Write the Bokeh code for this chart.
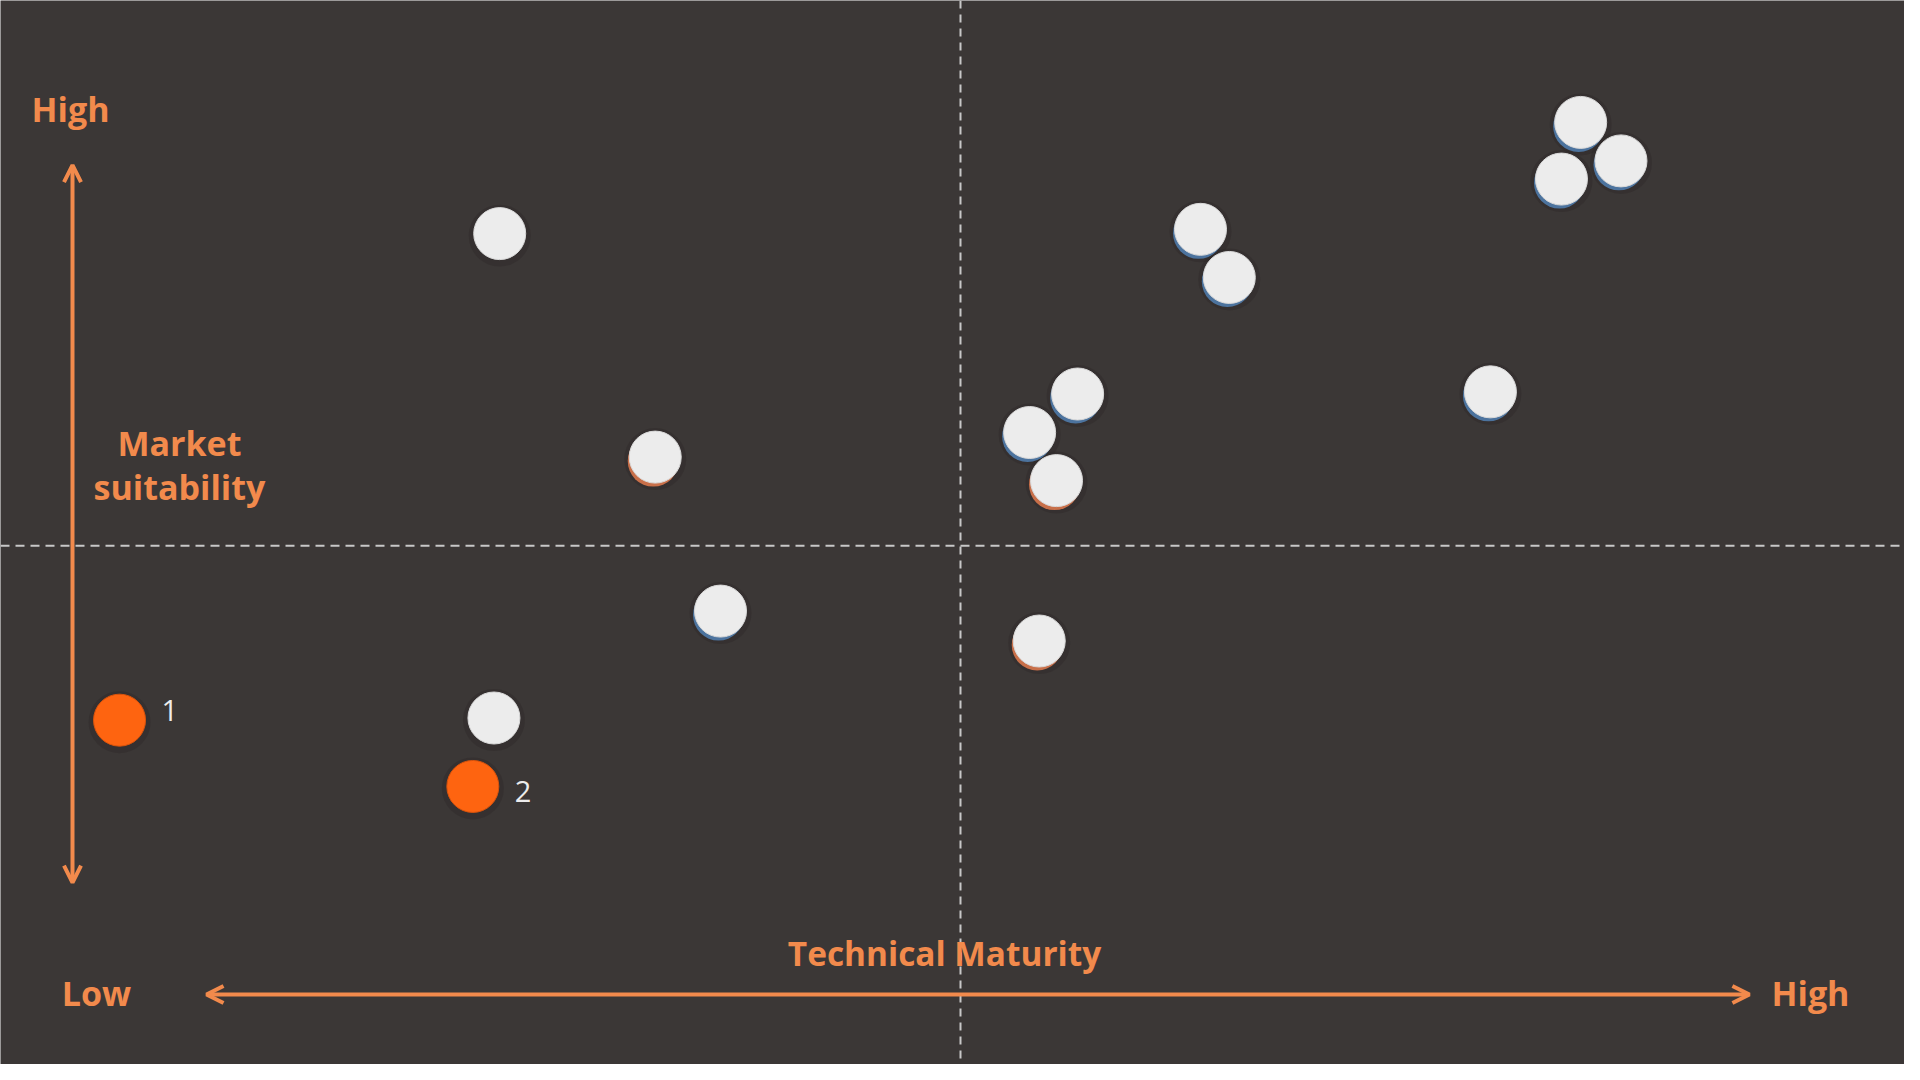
from bokeh.plotting import figure
from bokeh.models import Range1d, Span, Arrow, OpenHead, ColumnDataSource, Label
from bokeh.embed import file_html
from bokeh.resources import INLINE
from bokeh.core.properties import value

# Data: technical maturity (x) vs market suitability (y), 0-10 scale, midpoint 5
maturity    = [2.60, 3.41, 3.75, 5.41, 2.57, 0.62, 2.46, 5.61, 5.36, 5.50, 6.25, 6.40, 7.76, 8.23, 8.44, 8.13]
suitability = [7.92, 5.83, 4.39, 4.11, 3.39, 3.37, 2.75, 6.42, 6.06, 5.61, 7.96, 7.51, 6.44, 8.96, 8.60, 8.43]
kind        = ["white"] * 5 + ["orange", "orange"] + ["white"] * 9
shadow      = ["none", "orange", "blue", "orange", "none", "none", "none",
               "blue", "blue", "orange", "blue", "blue", "blue", "blue", "blue", "blue"]
point_label = ["", "", "", "", "", "1", "2", "", "", "", "", "", "", "", "", ""]
label_dy    = [0, 0, 0, 0, 0, -10, 5, 0, 0, 0, 0, 0, 0, 0, 0, 0]

BG = "#3b3736"
ORANGE = "#f28a4c"
W, H = 1904, 1064

# ranges: 192 px per x unit, 1080/10.1 px per y unit, midpoints at (5, 5)
p = figure(width=W, height=H, x_range=Range1d(0, W / 192), y_range=Range1d(10.1 * (1 - H / 1080), 10.1),
           output_backend="svg", toolbar_location=None, min_border=0)
p.axis.visible = False
p.grid.visible = False
p.outline_line_color = None
p.background_fill_color = BG
p.border_fill_color = BG

# quadrant lines
p.add_layout(Span(location=5, dimension="width", line_color="#c8c8c8", line_width=2, line_dash="9 6"))
p.add_layout(Span(location=5, dimension="height", line_color="#c8c8c8", line_width=2, line_dash="8 6"))

# pixel -> data helpers for small style offsets
px_x = 1 / 192
px_y = 10.1 / 1080

shadow_col = {"blue": "#4f7bab", "orange": "#d8774c", "none": "#2b2827"}
halo_y = [y - 2 * px_y for y in suitability]
p.scatter(maturity, halo_y, size=62, fill_color="#2a2625", fill_alpha=0.35, line_color=None)

sx = [x - 2 * px_x for x in maturity]
sy = [y - 4 * px_y for y in suitability]
scol = [shadow_col[s] for s in shadow]
salpha = [0.0 if s == "none" else 0.9 for s in shadow]
p.scatter(sx, sy, size=51, fill_color=scol, fill_alpha=salpha, line_color=None)

fill = ["#ececec" if k == "white" else "#fe6410" for k in kind]
edge = ["#d9d9d9" if k == "white" else "#d9530c" for k in kind]
src = ColumnDataSource(dict(x=maturity, y=suitability, fill=fill, edge=edge,
                            lab=point_label, dy=label_dy))
p.scatter("x", "y", source=src, size=52, fill_color="fill", line_color="edge", line_width=1)

p.text("x", "y", text="lab", source=src, x_offset=42, y_offset="dy",
       text_font=value("Open Sans"), text_font_size="29px", text_font_style="normal",
       text_color="#ececec", text_align="left", text_baseline="middle")

# axes arrows
head = dict(size=17, line_color=ORANGE, line_width=4)
p.add_layout(Arrow(end=OpenHead(**head), start=OpenHead(**head),
                   x_start=0.375, y_start=1.85, x_end=0.375, y_end=8.56,
                   line_color=ORANGE, line_width=4))
p.add_layout(Arrow(end=OpenHead(**head), start=OpenHead(**head),
                   x_start=1.073, y_start=0.804, x_end=9.109, y_end=0.804,
                   line_color=ORANGE, line_width=4))

def lab(x, y, t, size="34px"):
    p.add_layout(Label(x=x, y=y, text=t, text_align="center", text_baseline="middle",
                       text_font="Open Sans", text_font_style="bold",
                       text_font_size=size, text_color=ORANGE))

lab(0.365, 9.081, "High")
lab(0.932, 5.966, "Market")
lab(0.932, 5.546, "suitability")
lab(0.500, 0.814, "Low")
lab(9.427, 0.814, "High")
lab(4.917, 1.188, "Technical Maturity", "33.4px")

html = file_html(p, INLINE)
html = html.replace("<body>", '<body style="background-color:#3b3736;">', 1)
open("out.html", "w").write(html)
